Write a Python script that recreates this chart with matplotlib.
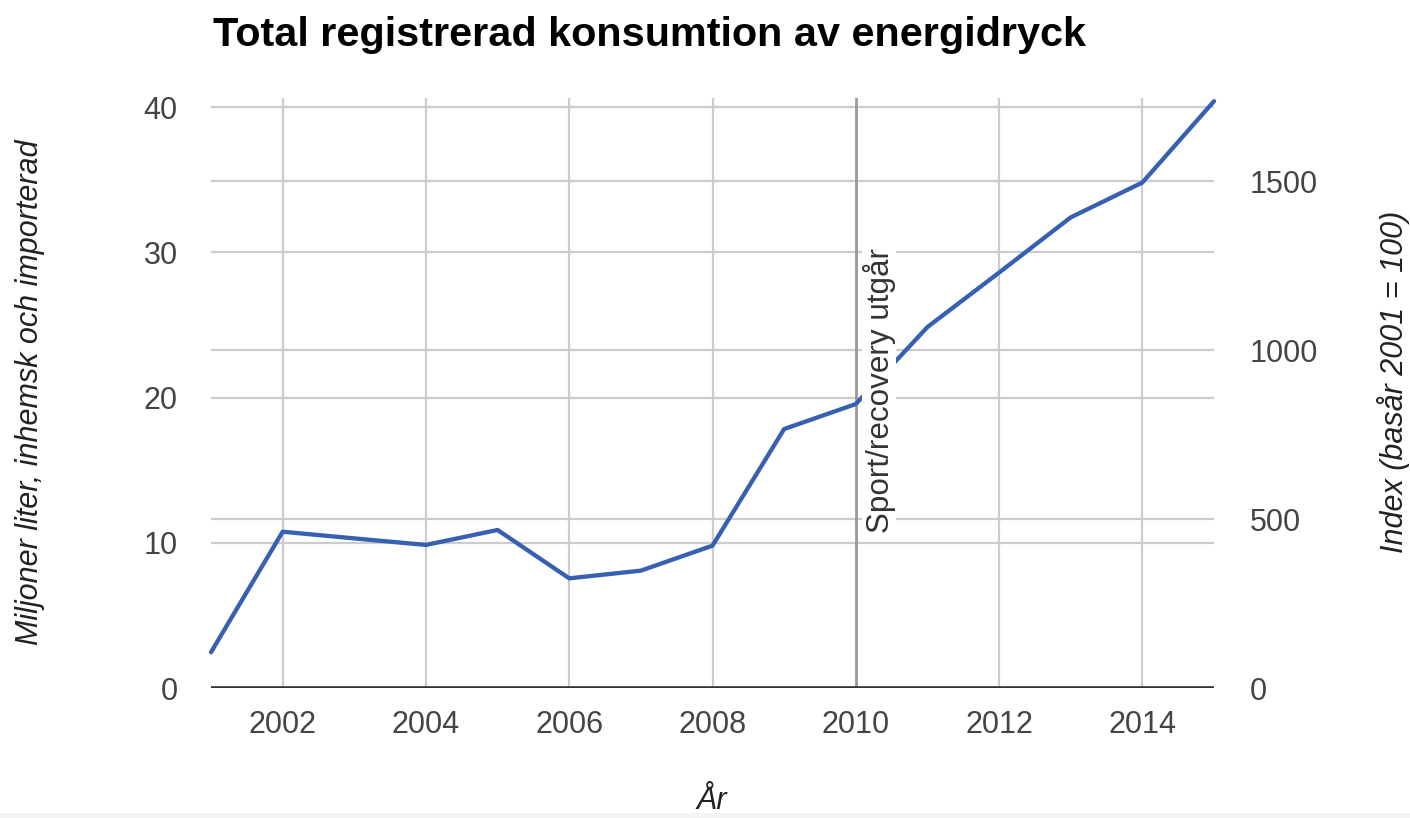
import numpy as np
import matplotlib
matplotlib.use('Agg')
import matplotlib.pyplot as plt
from matplotlib.patches import Rectangle

# Data (läst från bilden)
years = [2001, 2002, 2003, 2004, 2005, 2006, 2007, 2008,
         2009, 2010, 2011, 2012, 2013, 2014, 2015]
liters = [2.46, 10.76, 10.3, 9.85, 10.88, 7.55, 8.08, 9.8,
          17.83, 19.55, 24.85, 28.6, 32.4, 34.8, 40.4]

left_ticks = [0, 10, 20, 30, 40]
right_ticks = [0, 500, 1000, 1500]
x_ticks = [2002, 2004, 2006, 2008, 2010, 2012, 2014]
idx_per_unit = 500 / 11.63   # index-axelns skala mot vänsteraxeln

event_year = 2010
event_text = "Sport/recovery utgår"

plt.rcParams['font.family'] = ['Liberation Sans', 'DejaVu Sans']

fig = plt.figure(figsize=(14.1, 8.18), dpi=100)
ax = fig.add_axes([211/1410, 1 - 688/818, (1214-211)/1410, (688-98.3)/818])

ymax = 40.6
ax.set_xlim(2001, 2015)
ax.set_ylim(0, ymax)

grid_c = '#cccccc'
# horisontella linjer (båda axlarna) och vertikala
for v in left_ticks[1:]:
    ax.axhline(v, color=grid_c, lw=1.6, zorder=1)
for v in right_ticks[1:]:
    ax.axhline(v / idx_per_unit, color=grid_c, lw=1.6, zorder=1)
for x in x_ticks:
    if x != event_year:
        ax.axvline(x, color=grid_c, lw=1.6, zorder=1)
ax.axvline(event_year, color='#999999', lw=2, zorder=1)
ax.axhline(0, color='#333333', lw=2.6, zorder=4)

ax.plot(years, liters, color='#3761b0', lw=3.1, zorder=3,
        solid_joinstyle='round', solid_capstyle='round', clip_on=False)

ax.annotate(event_text, xy=(event_year, 10.67), xytext=(5, 0),
            textcoords='offset points', rotation=90, ha='left', va='bottom',
            fontsize=22.6, color='#333333', zorder=5,
            bbox=dict(facecolor='white', edgecolor='none', pad=0.5))

for s in ax.spines.values():
    s.set_visible(False)
ax.set_xticks(x_ticks)
ax.set_yticks(left_ticks)
ax.tick_params(axis='both', length=0, labelsize=22, labelcolor='#444444')
ax.tick_params(axis='x', pad=16)
ax.tick_params(axis='y', pad=24)

ax2 = ax.twinx()
ax2.set_ylim(0, ymax * idx_per_unit)
ax2.set_yticks(right_ticks)
for s in ax2.spines.values():
    s.set_visible(False)
ax2.tick_params(axis='y', length=0, labelsize=22, labelcolor='#444444', pad=26)

fig.text(213/1410, 1 - 46/818, "Total registrerad konsumtion av energidryck",
         fontsize=29.8, fontweight='bold', color='#000000', va='baseline')
fig.text(30/1410, 1 - 392/818, "Miljoner liter, inhemsk och importerad",
         rotation=90, style='italic', fontsize=22, color='#222222',
         ha='center', va='center')
fig.text(1394/1410, 1 - 382/818, "Index (basår 2001 = 100)",
         rotation=90, style='italic', fontsize=22, color='#222222',
         ha='center', va='center')
fig.text(712/1410, 1 - 786/818, "År", style='italic', fontsize=22,
         color='#222222', ha='center', va='top')

fig.patches.append(Rectangle((0, 0), 1, 5/818, transform=fig.transFigure,
                             facecolor='#f4f4f4', edgecolor='none', zorder=10))

fig.savefig('out.png', dpi=100)
